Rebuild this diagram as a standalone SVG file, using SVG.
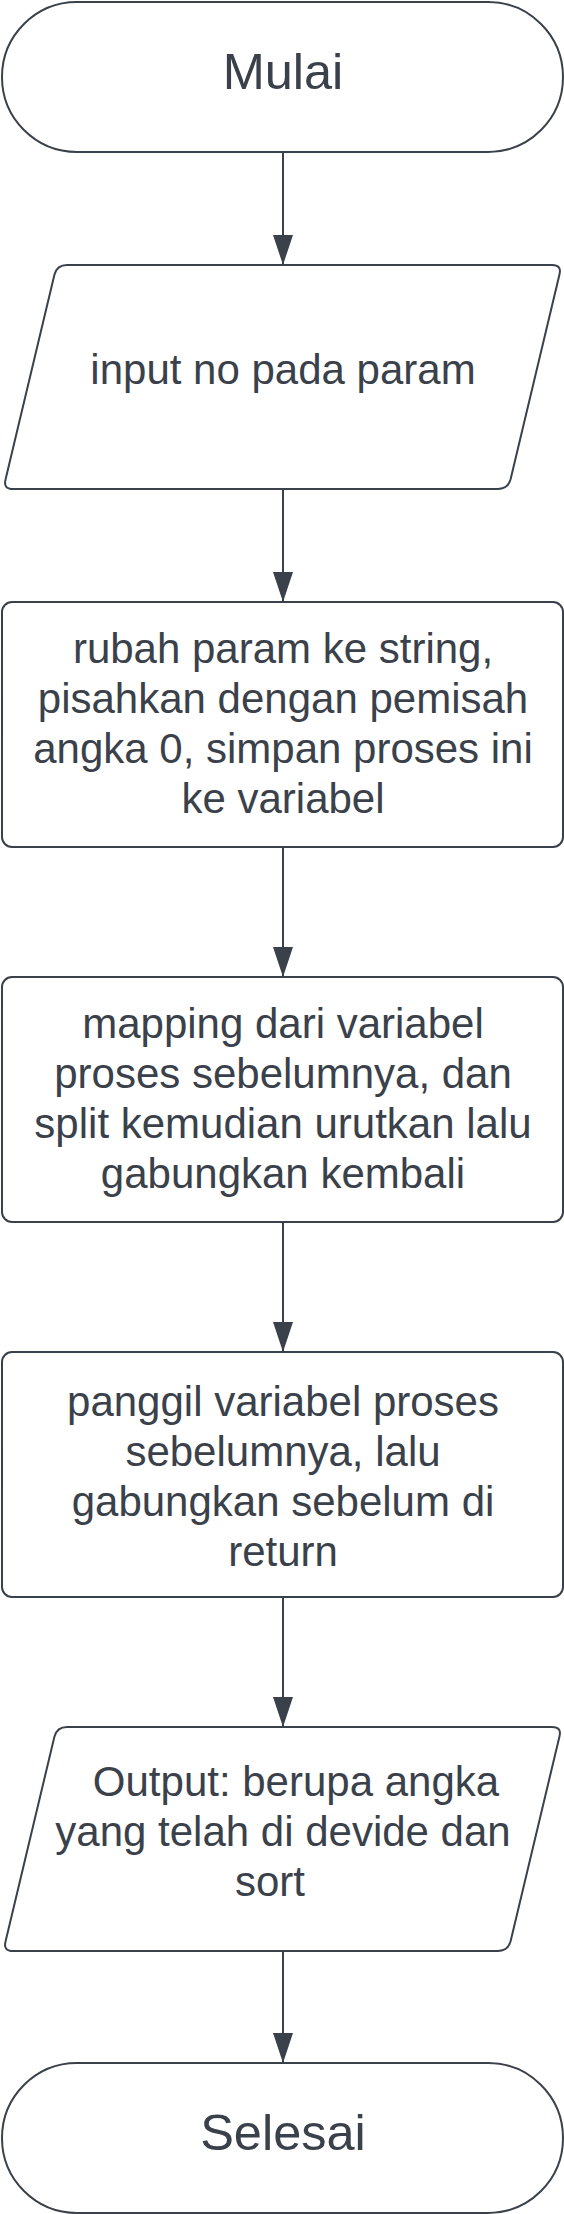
<svg xmlns="http://www.w3.org/2000/svg" width="564" height="2214" viewBox="0 0 564 2214">
  <style>
    .shape { fill: #ffffff; stroke: #3a414a; stroke-width: 2; }
    .conn { stroke: #3a414a; stroke-width: 2; fill: none; }
    .t { font-family: "Liberation Sans", Arial, sans-serif; font-size: 42px; fill: #3a414a; text-anchor: middle; }
    .big { font-size: 50.5px; }
  </style>
  <defs>
    <marker id="arrow" viewBox="0 0 30 20" refX="30" refY="10" markerWidth="30" markerHeight="20" markerUnits="userSpaceOnUse" orient="auto">
      <path d="M0,0 L30,10 L0,20 Z" fill="#3a414a"/>
    </marker>
  </defs>
  <rect width="564" height="2214" fill="#ffffff"/>

  <g id="connectors">
    <line class="conn" x1="283" y1="152" x2="283" y2="265" marker-end="url(#arrow)"/>
    <line class="conn" x1="283" y1="489" x2="283" y2="602" marker-end="url(#arrow)"/>
    <line class="conn" x1="283" y1="847" x2="283" y2="977" marker-end="url(#arrow)"/>
    <line class="conn" x1="283" y1="1222" x2="283" y2="1352" marker-end="url(#arrow)"/>
    <line class="conn" x1="283" y1="1597" x2="283" y2="1727" marker-end="url(#arrow)"/>
    <line class="conn" x1="283" y1="1951" x2="283" y2="2063" marker-end="url(#arrow)"/>
  </g>

  <g id="start">
    <rect class="shape" x="2" y="2" width="561" height="150" rx="75" ry="75"/>
    <text class="t big" x="283" y="89">Mulai</text>
  </g>

  <g id="input">
    <path class="shape" d="M67,265 L552,265 Q562,265 559.41,274.66 L510.59,479.34 Q508,489 498,489 L13,489 Q3,489 5.59,479.34 L54.41,274.66 Q57,265 67,265 Z"/>
    <text class="t" x="283" y="384">input no pada param</text>
  </g>

  <g id="process1">
    <rect class="shape" x="2" y="602" width="561" height="245" rx="10" ry="10"/>
    <text class="t" x="283" y="663">rubah param ke string,</text>
    <text class="t" x="283" y="713">pisahkan dengan pemisah</text>
    <text class="t" x="283" y="763">angka 0, simpan proses ini</text>
    <text class="t" x="283" y="813">ke variabel</text>
  </g>

  <g id="process2">
    <rect class="shape" x="2" y="977" width="561" height="245" rx="10" ry="10"/>
    <text class="t" x="283" y="1038">mapping dari variabel</text>
    <text class="t" x="283" y="1088">proses sebelumnya, dan</text>
    <text class="t" x="283" y="1138">split kemudian urutkan lalu</text>
    <text class="t" x="283" y="1188">gabungkan kembali</text>
  </g>

  <g id="process3">
    <rect class="shape" x="2" y="1352" width="561" height="245" rx="10" ry="10"/>
    <text class="t" x="283" y="1416">panggil variabel proses</text>
    <text class="t" x="283" y="1466">sebelumnya, lalu</text>
    <text class="t" x="283" y="1516">gabungkan sebelum di</text>
    <text class="t" x="283" y="1566">return</text>
  </g>

  <g id="output">
    <path class="shape" d="M67,1727 L552,1727 Q562,1727 559.41,1736.66 L510.59,1941.34 Q508,1951 498,1951 L13,1951 Q3,1951 5.59,1941.34 L54.41,1736.66 Q57,1727 67,1727 Z"/>
    <text class="t" x="296" y="1796">Output: berupa angka</text>
    <text class="t" x="283" y="1846">yang telah di devide dan</text>
    <text class="t" x="270" y="1896">sort</text>
  </g>

  <g id="end">
    <rect class="shape" x="2" y="2063" width="561" height="150" rx="75" ry="75"/>
    <text class="t big" x="283" y="2150">Selesai</text>
  </g>
</svg>
